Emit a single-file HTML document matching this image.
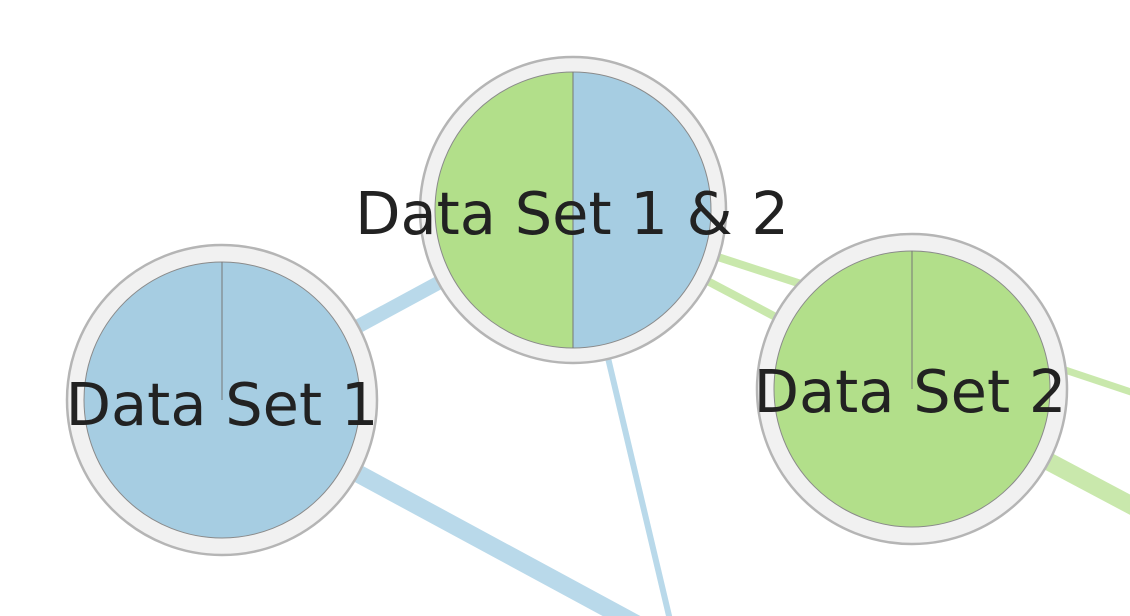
<!DOCTYPE html>
<html><head><style>html,body{margin:0;padding:0;background:#fff;width:1130px;height:616px;overflow:hidden}</style></head>
<body>
<svg width="1130" height="616" viewBox="0 0 1130 616" xmlns="http://www.w3.org/2000/svg">
<g stroke-linecap="butt">
<line x1="222" y1="400" x2="573" y2="210" stroke="#b9d9ea" stroke-width="14"/>
<line x1="222" y1="400" x2="640" y2="626" stroke="#b9d9ea" stroke-width="18"/>
<line x1="573" y1="210" x2="670" y2="620" stroke="#b9d9ea" stroke-width="6"/>
<line x1="573" y1="210" x2="912" y2="320" stroke="#c9e8ac" stroke-width="8"/>
<line x1="573" y1="210" x2="912" y2="389" stroke="#c9e8ac" stroke-width="8"/>
<line x1="1050" y1="365" x2="1140" y2="395" stroke="#c9e8ac" stroke-width="7"/>
<line x1="912" y1="389" x2="1140" y2="510" stroke="#c9e8ac" stroke-width="18"/>
</g>
<g>
<circle cx="222" cy="400" r="155" fill="#f1f1f1" stroke="#b5b5b5" stroke-width="2.5"/>
<circle cx="222" cy="400" r="138" fill="#a6cde2" stroke="#8a8a8a" stroke-width="1"/>
<line x1="222" y1="262" x2="222" y2="400" stroke="#777" stroke-width="1"/>
</g>
<g>
<circle cx="912" cy="389" r="155" fill="#f1f1f1" stroke="#b5b5b5" stroke-width="2.5"/>
<circle cx="912" cy="389" r="138" fill="#b2df8a" stroke="#8a8a8a" stroke-width="1"/>
<line x1="912" y1="251" x2="912" y2="389" stroke="#777" stroke-width="1"/>
</g>
<g>
<circle cx="573" cy="210" r="153" fill="#f1f1f1" stroke="#b5b5b5" stroke-width="2.5"/>
<path d="M573 72 A138 138 0 0 0 573 348 Z" fill="#b2df8a"/>
<path d="M573 72 A138 138 0 0 1 573 348 Z" fill="#a6cde2"/>
<circle cx="573" cy="210" r="138" fill="none" stroke="#8a8a8a" stroke-width="1"/>
<line x1="573" y1="72" x2="573" y2="348" stroke="#777" stroke-width="1"/>
</g>
<g font-family="'DejaVu Sans','Liberation Sans',sans-serif" font-size="59" fill="#222" text-anchor="middle">
<text x="222" y="425">Data Set 1</text>
<text x="910" y="412">Data Set 2</text>
<text x="572" y="234">Data Set 1 &amp; 2</text>
</g>
</svg>
</body></html>
